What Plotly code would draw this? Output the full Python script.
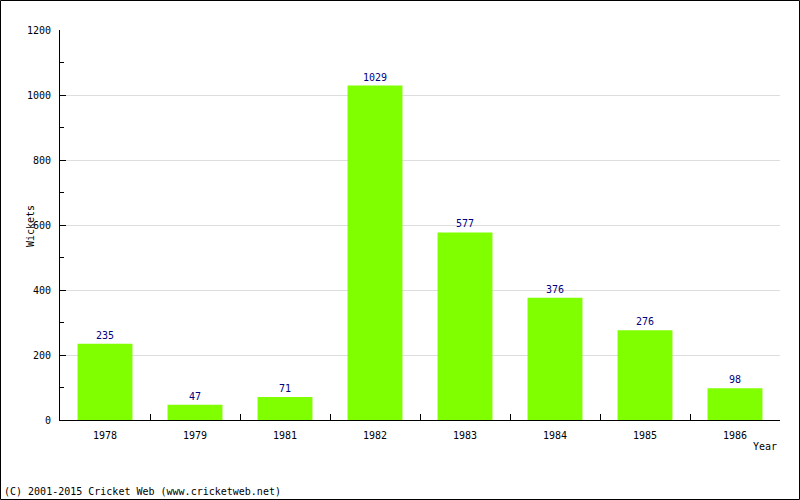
import plotly.graph_objects as go

years = ["1978", "1979", "1981", "1982", "1983", "1984", "1985", "1986"]
wickets = [235, 47, 71, 1029, 577, 376, 276, 98]
y_ticks = [0, 200, 400, 600, 800, 1000, 1200]

FONT = "DejaVu Sans Mono"
FS = 10

fig = go.Figure(go.Bar(
    x=years, y=wickets,
    marker=dict(color="#80ff00", line=dict(width=0)),
    text=[str(v) for v in wickets], textposition="outside",
    textfont=dict(color="#000080", size=FS, family=FONT),
    cliponaxis=False,
))

L, R, T, B = 60, 20, 30, 80
W, H = 800, 500
pw, ph = W - L - R, H - T - B

fig.update_layout(
    width=W, height=H,
    margin=dict(l=L, r=R, t=T, b=B),
    paper_bgcolor="white", plot_bgcolor="white",
    bargap=0.39,
    showlegend=False,
    font=dict(family=FONT, size=FS, color="black"),
    xaxis=dict(
        type="category", showline=True, linecolor="black", linewidth=1,
        ticks="inside", ticklen=6, tickcolor="black", tickson="boundaries",
        showgrid=False, tickfont=dict(size=FS, family=FONT), ticklabelstandoff=6,
    ),
    yaxis=dict(
        range=[0, 1200], tickvals=y_ticks, showline=True, linecolor="black",
        linewidth=1, ticks="inside", ticklen=6, tickcolor="black",
        showgrid=True, gridcolor="#dddddd", gridwidth=1, zeroline=False,
        tickfont=dict(size=FS, family=FONT), ticklabelstandoff=6,
        minor=dict(dtick=100, ticks="inside", ticklen=4, tickcolor="black", showgrid=False),
    ),
    shapes=[dict(
        type="rect", xref="paper", yref="paper",
        x0=-(L - 0.5) / pw, x1=1 + (R - 0.5) / pw,
        y0=-(B - 0.5) / ph, y1=1 + (T - 0.5) / ph,
        line=dict(color="black", width=1), fillcolor="rgba(0,0,0,0)",
    )],
    annotations=[
        dict(text="Wickets", xref="paper", yref="paper", x=-30 / pw, y=(420 - 226) / ph,
             xanchor="center", yanchor="middle", textangle=-90, showarrow=False,
             font=dict(size=FS, family=FONT)),
        dict(text="Year", xref="paper", yref="paper", x=1 - 1 / pw, y=-19 / ph,
             xanchor="right", yanchor="top", showarrow=False,
             font=dict(size=FS, family=FONT)),
        dict(text="(C) 2001-2015 Cricket Web (www.cricketweb.net)", xref="paper", yref="paper",
             x=-(L - 2) / pw, y=-(B - 1) / ph, xanchor="left", yanchor="bottom",
             showarrow=False, font=dict(size=FS, family=FONT)),
    ],
)

fig.write_html("out.html", config={"displayModeBar": False},
               post_script="document.body.style.margin='0';document.body.style.overflow='hidden';")
